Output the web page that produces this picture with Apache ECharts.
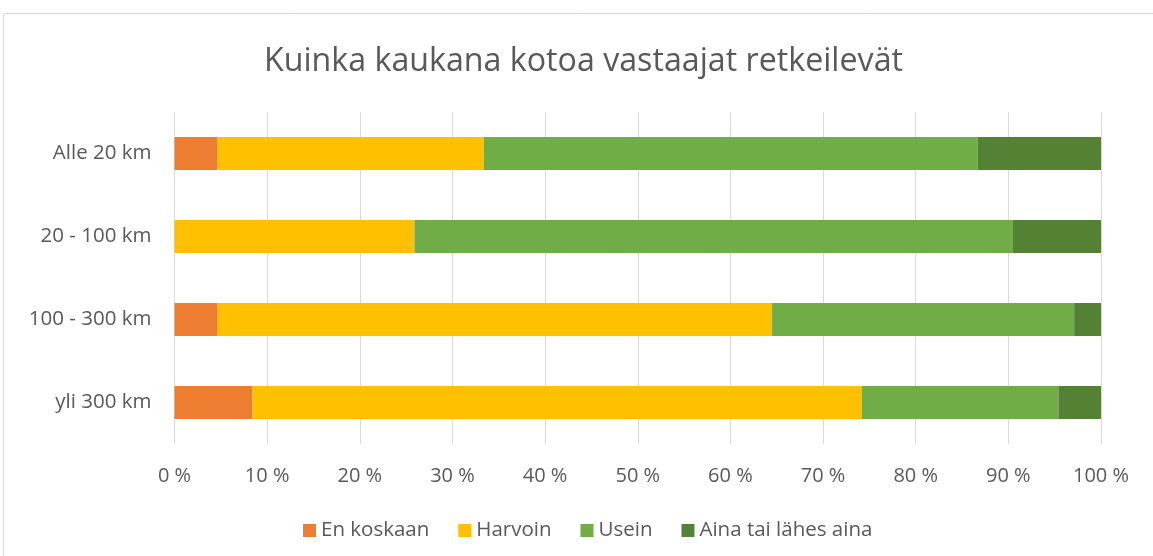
<!DOCTYPE html>
<html>
<head>
<meta charset="utf-8">
<script src="https://cdn.jsdelivr.net/npm/echarts@6/dist/echarts.min.js"></script>
<style>
  html, body { margin: 0; padding: 0; background: #fff; }
  #chart { width: 1153px; height: 556px; }
</style>
</head>
<body>
<div id="chart"></div>
<script>
// luokat ylhäältä alas
const categories = ['Alle 20 km', '20 - 100 km', '100 - 300 km', 'yli 300 km']
const seriesNames = ['En koskaan', 'Harvoin', 'Usein', 'Aina tai lähes aina']
const enKoskaan = [4.6, 0, 4.6, 8.4]
const harvoin = [28.8, 25.9, 59.9, 65.8]
const usein = [53.3, 64.6, 32.6, 21.2]
const ainaTaiLahes = [13.3, 9.5, 2.9, 4.6]
const colors = ['#ED7D31', '#FFC000', '#70AD47', '#548235']

const font = '"Open Sans", sans-serif'
const chart = echarts.init(document.getElementById('chart'))

const values = [enKoskaan, harvoin, usein, ainaTaiLahes]

const option = {
  animation: false,
  title: {
    text: 'Kuinka kaukana kotoa vastaajat retkeilevät',
    left: 259,
    top: 41,
    textStyle: { fontFamily: font, fontSize: 32.2, fontWeight: 'normal', color: '#595959' }
  },
  graphic: [{
    type: 'rect',
    shape: { x: 3.5, y: 13.5, width: 1170, height: 570 },
    style: { fill: 'none', stroke: '#d9d9d9', lineWidth: 1 },
    silent: true
  }],
  legend: {
    data: seriesNames,
    top: 515,
    left: 298,
    icon: 'rect',
    itemWidth: 13,
    itemHeight: 13,
    itemGap: 29,
    textStyle: { fontFamily: font, fontSize: 20.5, color: '#595959' }
  },
  grid: { left: 174.5, right: 52, top: 112, bottom: 112, containLabel: false },
  xAxis: {
    type: 'value',
    min: 0,
    max: 100,
    interval: 10,
    axisLine: { show: false },
    axisTick: { show: false },
    axisLabel: {
      formatter: '{value} %',
      margin: 22,
      fontFamily: font,
      fontSize: 20,
      color: '#595959'
    },
    splitLine: { lineStyle: { color: '#d9d9d9', width: 1 } }
  },
  yAxis: {
    type: 'category',
    data: categories,
    inverse: true,
    axisLine: { show: false },
    axisTick: { show: false },
    axisLabel: { margin: 23, fontFamily: font, fontSize: 20.5, color: '#595959' }
  },
  series: seriesNames.map((name, i) => ({
    name: name,
    type: 'bar',
    stack: 'total',
    barWidth: 33,
    itemStyle: { color: colors[i] },
    data: values[i]
  }))
}

chart.setOption(option)
</script>
</body>
</html>
